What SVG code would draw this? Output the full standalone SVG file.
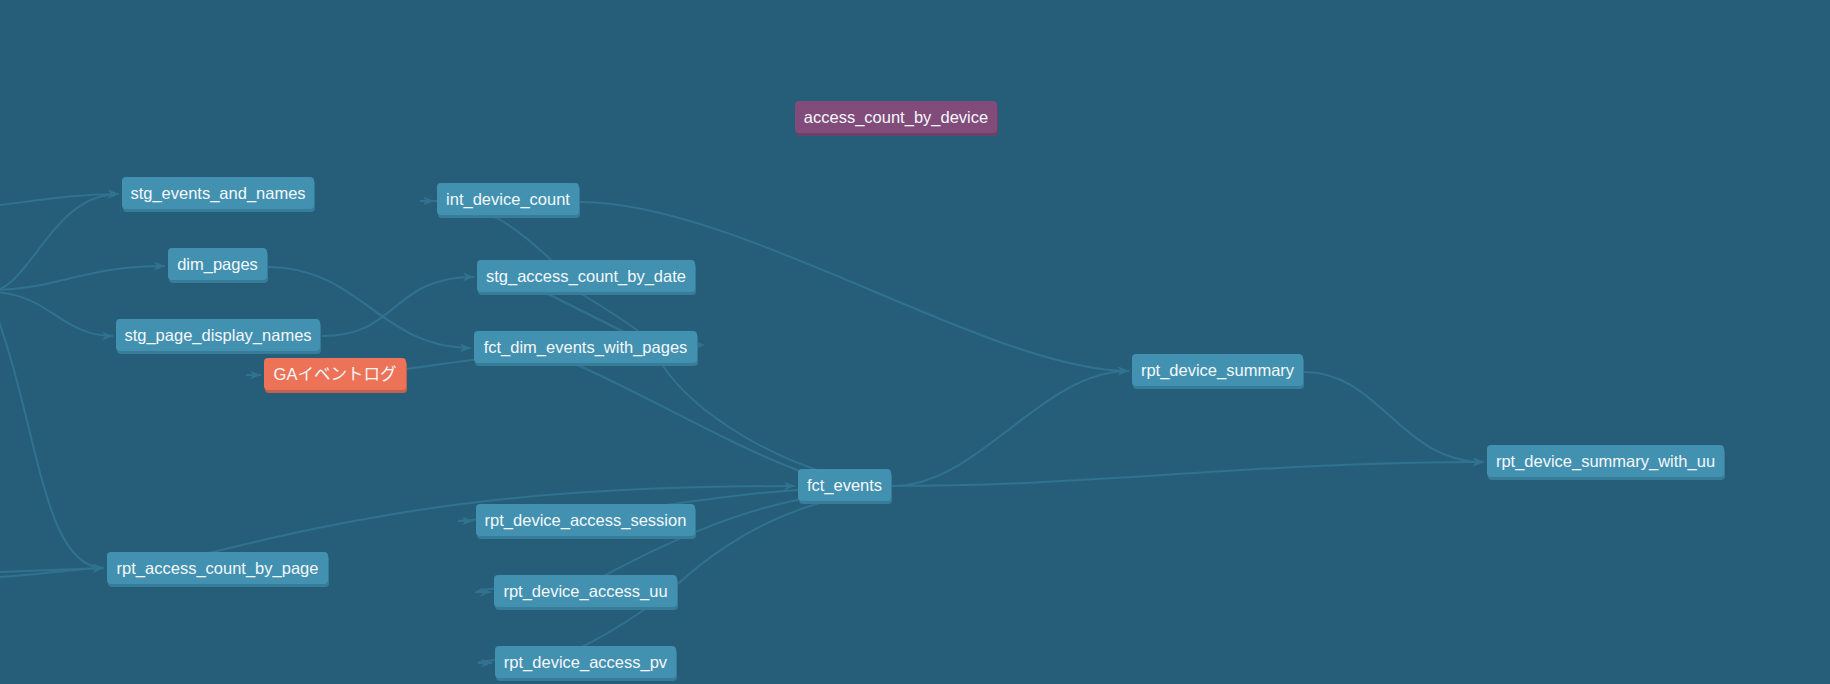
<svg xmlns="http://www.w3.org/2000/svg" width="1830" height="684" viewBox="0 0 1830 684">
  <style>
    .bg { fill: #265e79; }
    .edge { fill: none; stroke: #30728f; stroke-width: 2; }
    .shadow { fill: #377c99; }
    .body { fill: #4291b1; }
    .src .shadow { fill: #c4614b; }
    .src .body { fill: #ec7357; }
    .exp .shadow { fill: #6c4268; }
    .exp .body { fill: #814b7a; }
    .label { fill: #f4f8fa; font-family: "Liberation Sans", "Noto Sans CJK JP", sans-serif; font-size: 16.5px; text-anchor: middle; }
  </style>
  <defs>
    <marker id="arrow" viewBox="0 0 11 9" refX="11" refY="4.5" markerWidth="11" markerHeight="9" markerUnits="userSpaceOnUse" orient="auto">
      <path d="M0,0 L11,4.5 L0,9 L3,4.5 Z" fill="#30728f"/>
    </marker>
  </defs>

  <rect class="bg" x="0" y="0" width="1830" height="684"/>

  <!-- connectors, drawn beneath the nodes -->
  <g id="edges">
    <path class="edge" d="M0,205 C40,200 75,194 119,194" marker-end="url(#arrow)"/>
    <path class="edge" d="M-12,292 C30,292 50,194 119,194" marker-end="url(#arrow)"/>
    <path class="edge" d="M-12,290 C60,290 80,266 165,266" marker-end="url(#arrow)"/>
    <path class="edge" d="M-12,292 C50,292 60,336 113,336" marker-end="url(#arrow)"/>
    <path class="edge" d="M-12,292 C40,420 40,568 104,568" marker-end="url(#arrow)"/>
    <path class="edge" d="M0,572 L104,568" marker-end="url(#arrow)"/>
    <path class="edge" d="M0,577 C40,575 70,569 104,568" marker-end="url(#arrow)"/>
    <path class="edge" d="M180,560 C380,510 520,486 795,486" marker-end="url(#arrow)"/>
    <path class="edge" d="M322,336 C400,336 390,277 474,277" marker-end="url(#arrow)"/>
    <path class="edge" d="M268,267 C360,267 380,348 471,348" marker-end="url(#arrow)"/>
    <path class="edge" d="M405,369 C430,366 455,362 480,359 L575,364 C640,392 720,440 797,470 L830,486"/>
    <path class="edge" d="M830,474 C780,460 700,420 663,366 L637,330 C620,318 600,305 583,295 L550,259 C530,240 515,228 497,218 L445,201 L420,201 L434,201" marker-end="url(#arrow)"/>
    <path class="edge" d="M520,280 C560,300 600,320 650,345"/>
    <path class="edge" d="M580,202 C740,202 990,371 1129,371" marker-end="url(#arrow)"/>
    <path class="edge" d="M892,486 C980,486 1040,371 1129,371" marker-end="url(#arrow)"/>
    <path class="edge" d="M892,486 C1100,486 1250,462 1484,462" marker-end="url(#arrow)"/>
    <path class="edge" d="M1304,372 C1380,372 1400,462 1484,462" marker-end="url(#arrow)"/>
    <path class="edge" d="M850,488 C780,489 720,497 660,506 L470,520 L458,521 L473,521" marker-end="url(#arrow)"/>
    <path class="edge" d="M850,492 C760,500 680,535 600,578 L480,590 L477,592 L491,592" marker-end="url(#arrow)"/>
    <path class="edge" d="M850,496 C770,510 710,555 680,582 C660,600 620,628 580,648 L480,662 L478,663 L492,663" marker-end="url(#arrow)"/>
    <path class="edge" d="M246,375 L261,375" marker-end="url(#arrow)"/>
    <path d="M692,340 L705,345 L692,350 Z" fill="#30728f"/>
  </g>

  <!-- nodes -->
  <g id="stg_events_and_names">
    <rect class="shadow" x="123" y="180" width="192" height="32" rx="4"/>
    <rect class="body" x="122" y="177" width="192" height="32" rx="4"/>
    <text class="label" x="218" y="199">stg_events_and_names</text>
  </g>
  <g id="dim_pages">
    <rect class="shadow" x="169" y="251" width="99" height="32" rx="4"/>
    <rect class="body" x="168" y="248" width="99" height="32" rx="4"/>
    <text class="label" x="217.5" y="270">dim_pages</text>
  </g>
  <g id="stg_page_display_names">
    <rect class="shadow" x="117" y="322" width="204" height="32" rx="4"/>
    <rect class="body" x="116" y="319" width="204" height="32" rx="4"/>
    <text class="label" x="218" y="341">stg_page_display_names</text>
  </g>
  <g id="ga_event_log" class="src">
    <rect class="shadow" x="265" y="361" width="142" height="32" rx="4"/>
    <rect class="body" x="264" y="358" width="142" height="32" rx="4"/>
    <text class="label" x="335" y="380">GAイベントログ</text>
  </g>
  <g id="int_device_count">
    <rect class="shadow" x="438" y="186" width="142" height="32" rx="4"/>
    <rect class="body" x="437" y="183" width="142" height="32" rx="4"/>
    <text class="label" x="508" y="205">int_device_count</text>
  </g>
  <g id="stg_access_count_by_date">
    <rect class="shadow" x="478" y="263" width="218" height="32" rx="4"/>
    <rect class="body" x="477" y="260" width="218" height="32" rx="4"/>
    <text class="label" x="586" y="282">stg_access_count_by_date</text>
  </g>
  <g id="fct_dim_events_with_pages">
    <rect class="shadow" x="475" y="334" width="223" height="32" rx="4"/>
    <rect class="body" x="474" y="331" width="223" height="32" rx="4"/>
    <text class="label" x="585.5" y="353">fct_dim_events_with_pages</text>
  </g>
  <g id="access_count_by_device" class="exp">
    <rect class="shadow" x="796" y="104" width="202" height="32" rx="4"/>
    <rect class="body" x="795" y="101" width="202" height="32" rx="4"/>
    <text class="label" x="896" y="123">access_count_by_device</text>
  </g>
  <g id="rpt_device_summary">
    <rect class="shadow" x="1133" y="357" width="171" height="32" rx="4"/>
    <rect class="body" x="1132" y="354" width="171" height="32" rx="4"/>
    <text class="label" x="1217.5" y="376">rpt_device_summary</text>
  </g>
  <g id="rpt_device_summary_with_uu">
    <rect class="shadow" x="1488" y="448" width="237" height="32" rx="4"/>
    <rect class="body" x="1487" y="445" width="237" height="32" rx="4"/>
    <text class="label" x="1605.5" y="467">rpt_device_summary_with_uu</text>
  </g>
  <g id="fct_events">
    <rect class="shadow" x="799" y="472" width="93" height="32" rx="4"/>
    <rect class="body" x="798" y="469" width="93" height="32" rx="4"/>
    <text class="label" x="844.5" y="491">fct_events</text>
  </g>
  <g id="rpt_device_access_session">
    <rect class="shadow" x="477" y="507" width="219" height="32" rx="4"/>
    <rect class="body" x="476" y="504" width="219" height="32" rx="4"/>
    <text class="label" x="585.5" y="526">rpt_device_access_session</text>
  </g>
  <g id="rpt_device_access_uu">
    <rect class="shadow" x="495" y="578" width="183" height="32" rx="4"/>
    <rect class="body" x="494" y="575" width="183" height="32" rx="4"/>
    <text class="label" x="585.5" y="597">rpt_device_access_uu</text>
  </g>
  <g id="rpt_device_access_pv">
    <rect class="shadow" x="496" y="649" width="181" height="32" rx="4"/>
    <rect class="body" x="495" y="646" width="181" height="32" rx="4"/>
    <text class="label" x="585.5" y="668">rpt_device_access_pv</text>
  </g>
  <g id="rpt_access_count_by_page">
    <rect class="shadow" x="108" y="555" width="221" height="32" rx="4"/>
    <rect class="body" x="107" y="552" width="221" height="32" rx="4"/>
    <text class="label" x="217.5" y="574">rpt_access_count_by_page</text>
  </g>
</svg>
